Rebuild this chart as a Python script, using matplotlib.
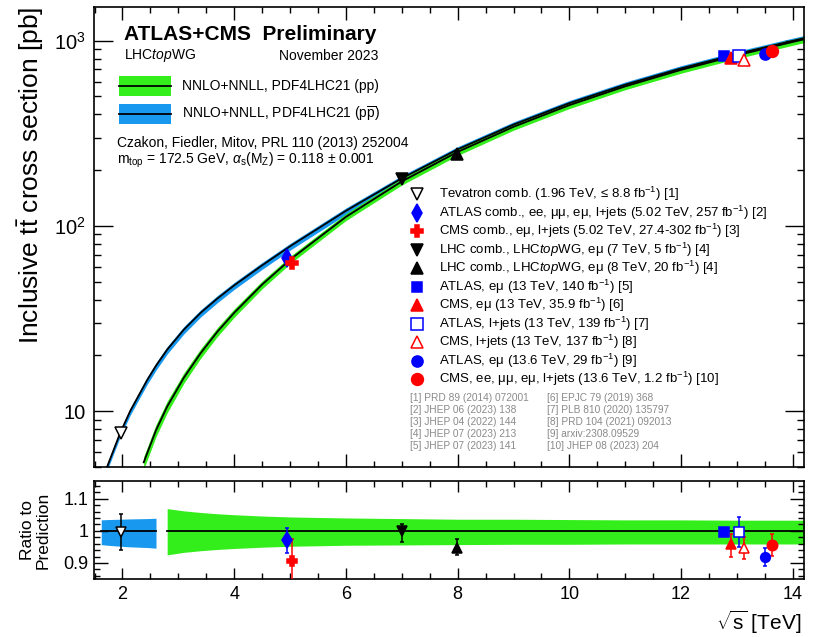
import matplotlib
matplotlib.use('Agg')
import matplotlib.pyplot as plt
import numpy as np
from matplotlib.patches import Rectangle
from matplotlib.lines import Line2D
from matplotlib.ticker import FixedLocator, MultipleLocator, LogLocator, NullFormatter

plt.rcParams['font.family'] = ['Liberation Sans', 'DejaVu Sans']
plt.rcParams['mathtext.fontset'] = 'custom'
plt.rcParams['mathtext.rm'] = 'Liberation Sans'
plt.rcParams['mathtext.it'] = 'Liberation Sans:italic'
plt.rcParams['mathtext.bf'] = 'Liberation Sans:bold'

# theory curves
pp_x = [2.38, 2.6, 2.8, 3.1, 3.4, 3.7, 4.0, 4.5, 5.02, 6, 7, 8, 9, 10, 11, 12, 13, 14, 14.25]
pp_xs = [5.3, 7.9, 10.6, 15.2, 20.6, 26.9, 34.0, 48.3, 66.5, 112, 174, 251, 343, 449, 567, 696, 834, 985, 1025]
pp_up = [1.075, 1.072, 1.069, 1.062, 1.057, 1.053, 1.050, 1.046, 1.043, 1.040, 1.038, 1.036, 1.036,
         1.035, 1.034, 1.034, 1.033, 1.033, 1.033]
pp_dn = [0.918, 0.922, 0.925, 0.933, 0.938, 0.942, 0.945, 0.949, 0.952, 0.955, 0.956, 0.957, 0.958,
         0.958, 0.959, 0.959, 0.959, 0.959, 0.959]

ppbar_x = [1.62, 1.73, 1.96, 2.14, 2.44, 2.6, 2.8, 3.1, 3.4, 3.7, 4.0, 4.5, 5.02, 6, 7, 8, 9,
           10, 11, 12, 13, 14, 14.25]
ppbar_xs = [4.05, 5.06, 7.65, 10.05, 14.7, 17.6, 21.5, 27.6, 34.0, 40.6, 47.8, 61.3, 78.4, 120.7, 180.7,
            258.9, 352.4, 460, 579, 709, 848, 999, 1039]
ppbar_up = [1.034, 1.035, 1.036, 1.037, 1.038, 1.039, 1.039, 1.039, 1.038, 1.038, 1.037, 1.037, 1.036,
            1.036, 1.035, 1.035, 1.034, 1.034, 1.034, 1.034, 1.034, 1.034, 1.034]
ppbar_dn = [0.957, 0.955, 0.952, 0.950, 0.948, 0.946, 0.947, 0.948, 0.949, 0.950, 0.951, 0.952, 0.953,
            0.955, 0.956, 0.957, 0.957, 0.958, 0.958, 0.958, 0.959, 0.959, 0.959]

# measurements
labels = [
    'Tevatron comb. (1.96 TeV, ≤ 8.8 fb$^{-1}$) [1]',
    'ATLAS comb., ee, μμ, eμ, l+jets (5.02 TeV, 257 fb$^{-1}$) [2]',
    'CMS comb., eμ, l+jets (5.02 TeV, 27.4-302 fb$^{-1}$) [3]',
    r'LHC comb., LHC$\mathit{top}$WG, eμ (7 TeV, 5 fb$^{-1}$) [4]',
    r'LHC comb., LHC$\mathit{top}$WG, eμ (8 TeV, 20 fb$^{-1}$) [4]',
    'ATLAS, eμ (13 TeV, 140 fb$^{-1}$) [5]',
    'CMS, eμ (13 TeV, 35.9 fb$^{-1}$) [6]',
    'ATLAS, l+jets (13 TeV, 139 fb$^{-1}$) [7]',
    'CMS, l+jets (13 TeV, 137 fb$^{-1}$) [8]',
    'ATLAS, eμ (13.6 TeV, 29 fb$^{-1}$) [9]',
    'CMS, ee, μμ, eμ, l+jets (13.6 TeV, 1.2 fb$^{-1}$) [10]',
]
meas_x = [1.98, 4.95, 5.03, 7.0, 7.98, 12.76, 12.9, 13.03, 13.13, 13.5, 13.62]
meas_xs = [7.6, 67.5, 63.0, 178.5, 243.3, 829, 803, 830, 791, 850, 882]
ratio = [0.996, 0.970, 0.905, 0.999, 0.945, 0.995, 0.958, 0.997, 0.945, 0.918, 0.955]
ratio_lo = [0.940, 0.930, 0.840, 0.966, 0.925, 0.983, 0.920, 0.950, 0.912, 0.890, 0.922]
ratio_hi = [1.052, 1.010, 0.975, 1.020, 0.975, 1.007, 0.990, 1.043, 0.980, 0.948, 0.990]

refs1 = ['[1] PRD 89 (2014) 072001', '[2] JHEP 06 (2023) 138', '[3] JHEP 04 (2022) 144',
         '[4] JHEP 07 (2023) 213', '[5] JHEP 07 (2023) 141']
refs2 = ['[6] EPJC 79 (2019) 368', '[7] PLB 810 (2020) 135797', '[8] PRD 104 (2021) 092013',
         '[9] arxiv:2308.09529', '[10] JHEP 08 (2023) 204']

mk = ['v', 'd', 'P', 'v', '^', 's', '^', 's', '^', 'o', 'o']
col = ['black', 'blue', 'red', 'black', 'black', 'blue', 'red', 'blue', 'red', 'blue', 'red']
face = ['white', 'blue', 'red', 'black', 'black', 'blue', 'red', 'white', 'white', 'blue', 'red']
ms = [8, 9, 8, 8, 8, 7.5, 8, 8, 8, 8, 8.5]

green = '#33ee1a'
blue = '#1898ee'

W, H = 819, 637


def fpos(px, py):
    return px / W, 1 - py / H


fig = plt.figure(figsize=(W / 100, H / 100), dpi=100)
ax = fig.add_axes([94 / W, 1 - 467 / H, 710 / W, 460 / H])
rax = fig.add_axes([94 / W, 1 - 579 / H, 710 / W, 98 / H])

pp_x_a = np.array(pp_x)
pp_a = np.array(pp_xs)
pb_x_a = np.array(ppbar_x)
pb_a = np.array(ppbar_xs)

# main panel
ax.fill_between(pb_x_a, pb_a * np.array(ppbar_dn), pb_a * np.array(ppbar_up), color=blue, lw=0, zorder=1)
ax.fill_between(pp_x_a, pp_a * np.array(pp_dn), pp_a * np.array(pp_up), color=green, lw=0, zorder=2)
ax.plot(pb_x_a, pb_a, color='black', lw=1.3, zorder=3)
ax.plot(pp_x_a, pp_a, color='black', lw=1.3, zorder=3)
for i in range(len(meas_x)):
    ax.plot(meas_x[i], meas_xs[i], marker=mk[i], ms=ms[i], mfc=face[i], mec=col[i],
            mew=1.1, ls='none', zorder=5)

ax.set_yscale('log')
ax.set_xlim(1.49, 14.2)
ax.set_ylim(5.0, 1520)
ax.yaxis.set_major_locator(FixedLocator([10, 100, 1000]))
ax.set_yticklabels(['10', '10$^{2}$', '10$^{3}$'])
ax.yaxis.set_minor_locator(LogLocator(base=10, subs=range(2, 10)))
ax.yaxis.set_minor_formatter(NullFormatter())
ax.xaxis.set_major_locator(MultipleLocator(2))
ax.xaxis.set_minor_locator(MultipleLocator(0.5))
ax.tick_params(axis='x', labelbottom=False)
ax.tick_params(which='both', direction='in', top=True, right=True, width=1)
ax.tick_params(axis='y', which='major', length=13.5, labelsize=14.5, pad=6)
ax.tick_params(axis='y', which='minor', length=5)
ax.tick_params(axis='x', which='major', length=9.5)
ax.tick_params(axis='x', which='minor', length=4.5)
for s in ax.spines.values():
    s.set_linewidth(1.2)

# ratio panel
n_b = 6
rax.fill_between(pb_x_a[:n_b], ppbar_dn[:n_b], ppbar_up[:n_b], color=blue, lw=0, zorder=1)
rax.fill_between(pp_x_a[2:], pp_dn[2:], pp_up[2:], color=green, lw=0, zorder=1)
rax.plot(pb_x_a[:n_b], np.ones(n_b), color='black', lw=1.3, zorder=2)
rax.plot(pp_x_a[2:], np.ones(len(pp_x) - 2), color='black', lw=1.3, zorder=2)
for i in range(len(meas_x)):
    rax.errorbar(meas_x[i], ratio[i], yerr=[[ratio[i] - ratio_lo[i]], [ratio_hi[i] - ratio[i]]],
                 marker=mk[i], ms=ms[i] - 1, mfc=face[i], mec=col[i], mew=1.1, ecolor=col[i],
                 elinewidth=1.1, capsize=1.5, ls='none', zorder=5)

rax.set_xlim(1.49, 14.2)
rax.set_ylim(0.85, 1.155)
rax.yaxis.set_major_locator(FixedLocator([0.9, 1.0, 1.1]))
rax.set_yticklabels(['0.9', '1', '1.1'])
rax.yaxis.set_minor_locator(MultipleLocator(0.02))
rax.xaxis.set_major_locator(MultipleLocator(2))
rax.xaxis.set_minor_locator(MultipleLocator(0.5))
rax.tick_params(which='both', direction='in', top=True, right=True, width=1, labelsize=13)
rax.tick_params(axis='y', which='major', length=10, pad=4)
rax.tick_params(axis='y', which='minor', length=4.5)
rax.tick_params(axis='x', which='major', length=8, pad=5)
rax.tick_params(axis='x', which='minor', length=4)
for s in rax.spines.values():
    s.set_linewidth(1.2)

# axis titles
fig.text(*fpos(31, 175), r'Inclusive t$\bar{\mathrm{t}}$ cross section [pb]', rotation=90,
         ha='center', va='center', fontsize=19)
fig.text(*fpos(35, 530), 'Ratio to\nPrediction', rotation=90, ha='center', va='center',
         fontsize=12.5, linespacing=1.05, multialignment='center')
fig.text(*fpos(801, 622), r'$\sqrt{\mathrm{s}}$ [TeV]', ha='right', va='center', fontsize=15)

# header
fig.text(*fpos(124, 34), 'ATLAS+CMS  Preliminary', fontsize=15, weight='bold', va='center')
fig.text(*fpos(124, 56), r'LHC$\mathit{top}$WG', fontsize=10, va='center')
fig.text(*fpos(378, 56), 'November 2023', fontsize=10, va='center', ha='right')

for py, c, txt in [(86, green, 'NNLO+NNLL, PDF4LHC21 (pp)'),
                   (114, blue, r'NNLO+NNLL, PDF4LHC21 (p$\overline{\mathrm{p}}$)')]:
    fig.add_artist(Rectangle(fpos(119, py + 10), 52 / W, 20 / H, transform=fig.transFigure,
                             color=c, lw=0))
    x0, y0 = fpos(119, py)
    x1, _ = fpos(171, py)
    fig.add_artist(Line2D([x0, x1], [y0, y0], color='black', lw=1.3, transform=fig.transFigure))
    fig.text(*fpos(182, py), txt, fontsize=10, va='center')

fig.text(*fpos(117, 143), 'Czakon, Fiedler, Mitov, PRL 110 (2013) 252004', fontsize=10, va='center')
fig.text(*fpos(117, 160),
         r'm$_{\mathrm{top}}$ = 172.5 GeV, $\alpha_{\mathrm{s}}$(M$_{\mathrm{Z}}$) = 0.118 ± 0.001',
         fontsize=10, va='center')

# measurement legend
for i, txt in enumerate(labels):
    py = 194 + i * 18.5
    x0, y0 = fpos(417, py)
    fig.add_artist(Line2D([x0], [y0], marker=mk[i], ms=ms[i], mfc=face[i], mec=col[i], mew=1.1,
                          ls='none', transform=fig.transFigure))
    fig.text(*fpos(439, py), txt, fontsize=9.5, va='center')

for i in range(len(refs1)):
    py = 398 + i * 12
    fig.text(*fpos(410, py), refs1[i], fontsize=7.3, color='#8a8a8a', va='center')
    fig.text(*fpos(547, py), refs2[i], fontsize=7.3, color='#8a8a8a', va='center')

fig.savefig('out.png', dpi=100)
